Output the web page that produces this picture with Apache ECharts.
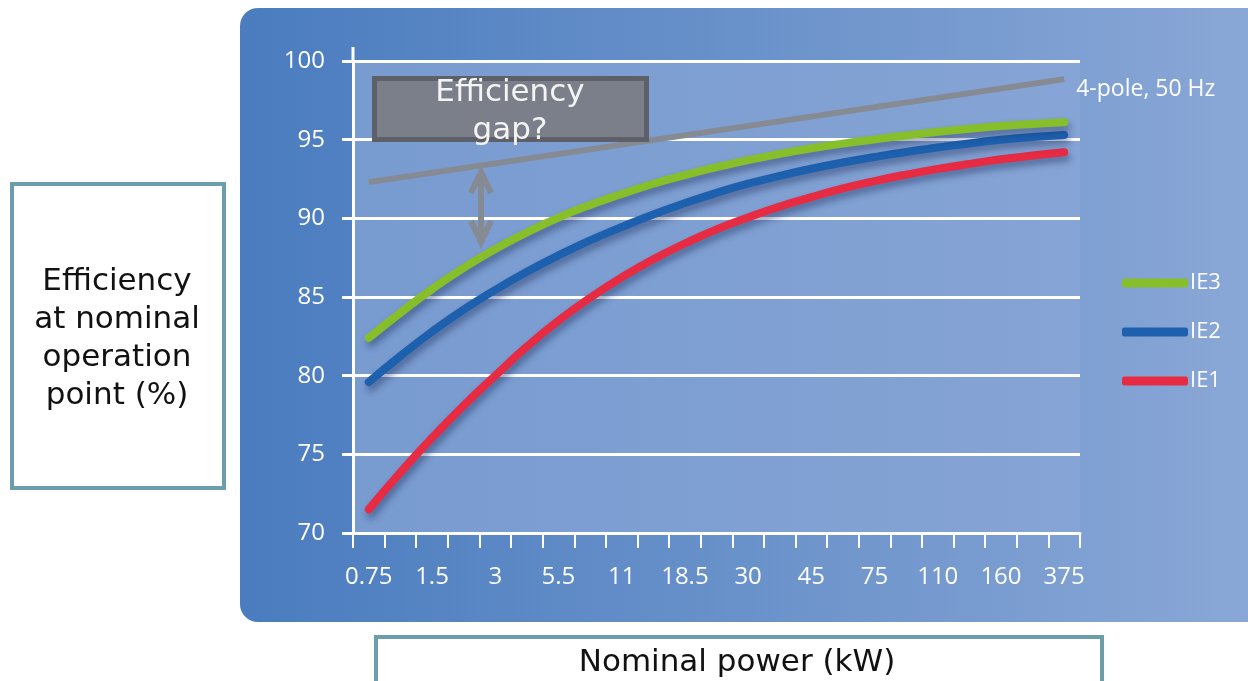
<!DOCTYPE html>
<html>
<head>
<meta charset="utf-8">
<title>Motor efficiency classes</title>
<script src="https://cdn.jsdelivr.net/npm/echarts@6/dist/echarts.min.js"></script>
<style>
  html, body { margin: 0; padding: 0; background: #ffffff; }
  #chart { width: 1248px; height: 681px; }
</style>
</head>
<body>
<div id="chart"></div>
<script>
// Nominal power classes (kW); every second one carries a tick label
const categories = ['0.75', '1.1', '1.5', '2.2', '3', '4', '5.5', '7.5', '11', '15', '18.5', '22',
  '30', '37', '45', '55', '75', '90', '110', '132', '160', '200', '375'];

// Efficiency at nominal operation point (%), 4-pole 50 Hz motors
const ie3 = [82.4, 84.0, 85.5, 86.85, 88.05, 89.1, 90.05, 90.85, 91.55, 92.2, 92.75, 93.25,
  93.7, 94.1, 94.45, 94.75, 95.02, 95.27, 95.5, 95.7, 95.87, 96.0, 96.1];
const ie2 = [79.6, 81.25, 82.8, 84.2, 85.45, 86.6, 87.65, 88.6, 89.45, 90.25, 90.97, 91.62,
  92.2, 92.7, 93.15, 93.55, 93.9, 94.22, 94.5, 94.76, 94.99, 95.17, 95.3];
const ie1 = [71.5, 73.85, 76.05, 78.1, 80.0, 81.85, 83.5, 84.95, 86.25, 87.4, 88.4, 89.3,
  90.05, 90.75, 91.35, 91.9, 92.37, 92.78, 93.14, 93.46, 93.75, 94.0, 94.2];

// Straight reference line: [category index, efficiency]
const refLine = [[0, 92.3], [22, 98.85]];
const refLabel = '4-pole, 50 Hz';

const yTicks = { min: 70, max: 100, step: 5 };

const white = '#ffffff';
const grey = '#868a93';
const boxStroke = '#6c9dab';

const chart = echarts.init(document.getElementById('chart'), null, { renderer: 'canvas' });

function curve(name, data, color) {
  return {
    name: name,
    type: 'line',
    data: data,
    smooth: 0.5,
    symbol: 'none',
    z: 5,
    lineStyle: {
      color: color,
      width: 8,
      cap: 'round',
      shadowColor: 'rgba(20, 35, 80, 0.45)',
      shadowBlur: 7,
      shadowOffsetX: 2,
      shadowOffsetY: 5
    },
    itemStyle: { color: color }
  };
}

const option = {
  animation: false,
  backgroundColor: '#ffffff',
  graphic: [
    // blue panel behind the chart
    {
      type: 'rect', z: -20, silent: true,
      shape: { x: 240, y: 8, width: 1030, height: 614, r: 18 },
      style: {
        fill: new echarts.graphic.LinearGradient(0, 0, 1, 0, [
          { offset: 0, color: '#4a7cbf' },
          { offset: 0.45, color: '#6790c9' },
          { offset: 1, color: '#8ba8d7' }
        ])
      }
    },
    // y axis stub above the top gridline
    {
      type: 'line', z: 10, silent: true,
      shape: { x1: 353, y1: 47, x2: 353, y2: 62 },
      style: { stroke: white, lineWidth: 3 }
    },
    // "Efficiency gap?" box
    {
      type: 'rect', z: 20, silent: true,
      shape: { x: 374.5, y: 78.5, width: 272, height: 61 },
      style: { fill: '#7b7f89', stroke: '#5d6068', lineWidth: 5 }
    },
    {
      type: 'text', z: 21, silent: true,
      x: 510, y: 112,
      style: {
        text: 'Efficiency\ngap?',
        fill: '#f4f4f4',
        font: '31px "DejaVu Sans"',
        lineHeight: 38,
        align: 'center',
        verticalAlign: 'middle'
      }
    },
    // double arrow marking the gap
    {
      type: 'polyline', z: 20, silent: true,
      shape: { points: [[481, 173], [481, 240]] },
      style: { stroke: grey, lineWidth: 6, fill: null }
    },
    {
      type: 'polyline', z: 20, silent: true,
      shape: { points: [[471, 193], [481, 172], [491, 193]] },
      style: { stroke: grey, lineWidth: 6, fill: null, lineJoin: 'miter' }
    },
    {
      type: 'polyline', z: 20, silent: true,
      shape: { points: [[471, 221], [481, 242], [491, 221]] },
      style: { stroke: grey, lineWidth: 6, fill: null, lineJoin: 'miter' }
    },
    // y axis title box
    {
      type: 'rect', z: 20, silent: true,
      shape: { x: 12, y: 184, width: 212, height: 304 },
      style: { fill: '#ffffff', stroke: boxStroke, lineWidth: 4 }
    },
    {
      type: 'text', z: 21, silent: true,
      x: 117, y: 339,
      style: {
        text: 'Efficiency\nat nominal\noperation\npoint (%)',
        fill: '#111111',
        font: '31px "DejaVu Sans"',
        lineHeight: 38,
        align: 'center',
        verticalAlign: 'middle'
      }
    },
    // x axis title box
    {
      type: 'rect', z: 20, silent: true,
      shape: { x: 376, y: 637, width: 726, height: 60 },
      style: { fill: '#ffffff', stroke: boxStroke, lineWidth: 4 }
    },
    {
      type: 'text', z: 21, silent: true,
      x: 737, y: 663,
      style: {
        text: 'Nominal power (kW)',
        fill: '#111111',
        font: '31px "DejaVu Sans"',
        align: 'center',
        verticalAlign: 'middle'
      }
    }
  ],
  grid: {
    left: 353,
    right: 168,
    top: 61,
    bottom: 148,
    show: true,
    borderWidth: 0,
    backgroundColor: new echarts.graphic.LinearGradient(0, 0, 1, 0, [
      { offset: 0, color: '#789bd0' },
      { offset: 1, color: '#86a4d5' }
    ])
  },
  legend: {
    data: ['IE3', 'IE2', 'IE1'],
    orient: 'vertical',
    left: 1117,
    top: 267,
    icon: 'roundRect',
    itemWidth: 66,
    itemHeight: 9,
    itemGap: 27,
    textStyle: { color: white, fontSize: 22, fontFamily: 'Open Sans', lineHeight: 22, padding: [0, 0, 0, -3] }
  },
  xAxis: {
    type: 'category',
    data: categories,
    boundaryGap: true,
    axisLine: { show: true, lineStyle: { color: white, width: 3 } },
    axisTick: { show: true, interval: 0, length: 15, lineStyle: { color: white, width: 2 } },
    axisLabel: {
      interval: 1,
      color: white,
      fontSize: 24,
      fontFamily: 'Open Sans',
      margin: 32
    },
    splitLine: { show: false }
  },
  yAxis: {
    type: 'value',
    min: yTicks.min,
    max: yTicks.max,
    interval: yTicks.step,
    axisLine: { show: true, lineStyle: { color: white, width: 3 } },
    axisTick: { show: true, length: 11, lineStyle: { color: white, width: 3 } },
    axisLabel: {
      color: white,
      fontSize: 24,
      fontFamily: 'Open Sans',
      margin: 28
    },
    splitLine: { show: true, lineStyle: { color: white, width: 3 } }
  },
  series: [
    {
      name: refLabel,
      type: 'line',
      data: refLine,
      symbol: 'none',
      z: 4,
      lineStyle: { color: grey, width: 6 },
      endLabel: {
        show: true,
        formatter: refLabel,
        color: white,
        fontSize: 23,
        fontFamily: 'Open Sans',
        distance: 12,
        offset: [0, 10]
      }
    },
    curve('IE1', ie1, '#e62b43'),
    curve('IE2', ie2, '#1d60ae'),
    curve('IE3', ie3, '#86bf2a')
  ]
};

chart.setOption(option);
</script>
</body>
</html>
